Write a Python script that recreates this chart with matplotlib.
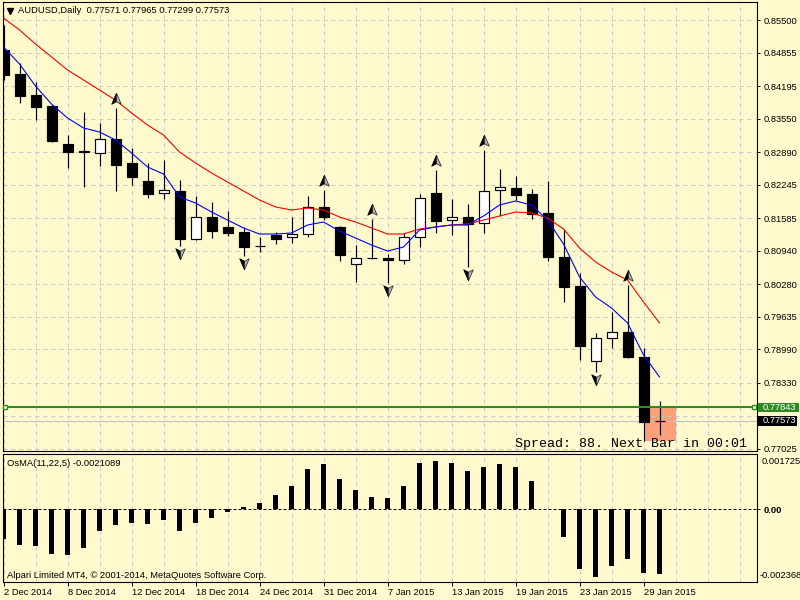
import numpy as np
import matplotlib
matplotlib.use("Agg")
import matplotlib.pyplot as plt
import matplotlib.transforms as mtransforms
from matplotlib.patches import Rectangle
from matplotlib.path import Path
from matplotlib.lines import Line2D

# ---------------- data ----------------
symbol_title = "AUDUSD,Daily"
bar_open = [0.84907, 0.84432, 0.84017, 0.83800, 0.83049, 0.82910, 0.82871, 0.83147, 0.82673, 0.82317,
            0.82080, 0.82119, 0.81170, 0.81605, 0.81408, 0.81309, 0.81032, 0.81249, 0.81210, 0.81269,
            0.81803, 0.81408, 0.80676, 0.80795, 0.80795, 0.80755, 0.81210, 0.82080, 0.81546, 0.81605,
            0.81487, 0.82139, 0.82179, 0.82060, 0.81684, 0.80814, 0.80241, 0.78758, 0.79213, 0.79332,
            0.78837, 0.77571]
bar_high = [0.85401, 0.84650, 0.84274, 0.83820, 0.83226, 0.83681, 0.83464, 0.83760, 0.82969, 0.82673,
            0.82732, 0.82337, 0.82021, 0.81902, 0.81724, 0.81408, 0.81210, 0.81309, 0.81605, 0.82021,
            0.82139, 0.81427, 0.81052, 0.81566, 0.80874, 0.81289, 0.82060, 0.82535, 0.81961, 0.81862,
            0.82930, 0.82554, 0.82416, 0.82159, 0.82317, 0.81368, 0.80498, 0.79312, 0.79727, 0.80261,
            0.79015, 0.77965]
bar_low = [0.84314, 0.83859, 0.83523, 0.83088, 0.82574, 0.82198, 0.82614, 0.82119, 0.82238, 0.81981,
           0.81961, 0.81032, 0.81151, 0.81190, 0.81230, 0.80834, 0.80913, 0.81072, 0.81091, 0.81210,
           0.81546, 0.80735, 0.80320, 0.80775, 0.80301, 0.80676, 0.81012, 0.81289, 0.81249, 0.80617,
           0.81289, 0.81625, 0.81941, 0.81566, 0.80735, 0.79925, 0.78778, 0.78541, 0.79015, 0.78818,
           0.77177, 0.77299]
bar_close = [0.84413, 0.83997, 0.83780, 0.83108, 0.82890, 0.82890, 0.83147, 0.82633, 0.82396, 0.82060,
             0.82139, 0.81170, 0.81605, 0.81329, 0.81289, 0.81012, 0.81030, 0.81170, 0.81269, 0.81803,
             0.81605, 0.80854, 0.80795, 0.80793, 0.80755, 0.81210, 0.81981, 0.81526, 0.81605, 0.81467,
             0.82119, 0.82198, 0.82040, 0.81665, 0.80814, 0.80221, 0.79055, 0.79213, 0.79332, 0.78837,
             0.77552, 0.77573]
ma_fast = [0.84966, 0.84630, 0.84195, 0.83839, 0.83563, 0.83365, 0.83286, 0.83128, 0.82871, 0.82594,
           0.82455, 0.82001, 0.81882, 0.81704, 0.81546, 0.81388, 0.81269, 0.81269, 0.81289, 0.81447,
           0.81506, 0.81329, 0.81190, 0.81052, 0.80933, 0.81012, 0.81348, 0.81408, 0.81447, 0.81447,
           0.81625, 0.81843, 0.81922, 0.81843, 0.81546, 0.81072, 0.80419, 0.80024, 0.79806, 0.79510,
           0.78877, 0.78442]
ma_slow = [0.85540, 0.85302, 0.85026, 0.84769, 0.84512, 0.84314, 0.84116, 0.83918, 0.83661, 0.83424,
           0.83226, 0.82890, 0.82673, 0.82475, 0.82297, 0.82119, 0.81941, 0.81803, 0.81744, 0.81783,
           0.81744, 0.81605, 0.81506, 0.81388, 0.81269, 0.81269, 0.81368, 0.81408, 0.81447, 0.81467,
           0.81546, 0.81625, 0.81704, 0.81684, 0.81586, 0.81368, 0.80992, 0.80716, 0.80518, 0.80360,
           0.79925, 0.79510]
osma_values = [-0.00096, -0.00116, -0.00119, -0.00145, -0.00148, -0.00126, -0.00070, -0.00051, -0.00043, -0.00048,
               -0.00035, -0.00070, -0.00043, -0.00028, -0.00009, 0.00006, 0.00022, 0.00048, 0.00077, 0.00131,
               0.00147, 0.00099, 0.00063, 0.00040, 0.00037, 0.00076, 0.00152, 0.00157, 0.00152, 0.00126,
               0.00139, 0.00147, 0.00139, 0.00092, 0.00001, -0.00089, -0.00195, -0.00219, -0.00186, -0.00162,
               -0.00206, -0.0021089]
osma_label = "OsMA(11,22,5) -0.0021089"
osma_scale_labels = ["0.001725", "0.00", "-0.002368"]
fractal_up_bars = [7, 20, 23, 27, 30, 39]
fractal_down_bars = [11, 15, 24, 29, 37]
date_label_bars = [0, 4, 8, 12, 16, 20, 24, 28, 32, 36, 40]
date_labels = ["2 Dec 2014", "8 Dec 2014", "12 Dec 2014", "18 Dec 2014", "24 Dec 2014",
               "31 Dec 2014", "7 Jan 2015", "13 Jan 2015", "19 Jan 2015", "23 Jan 2015", "29 Jan 2015"]
price_ticks = [0.85500, 0.84855, 0.84195, 0.83550, 0.82890, 0.82245, 0.81585, 0.80940,
               0.80280, 0.79635, 0.78990, 0.78330, 0.77680, 0.77025]
hidden_tick = 0.77680  # label covered by the price boxes
level_line_price = 0.77843
bid_price = 0.77573
spread_box_bars = (40, 42)
spread_box_low = 0.77177
spread_text = "Spread: 88. Next Bar in 00:01"
copyright_text = "Alpari Limited MT4, \u00a9 2001-2014, MetaQuotes Software Corp."

# ---------------- style ----------------
plt.rcParams['font.family'] = ['Liberation Sans', 'DejaVu Sans']
BG = '#FFFACD'
GRID = '#C8C8C8'
GREEN = '#2E8B22'
FS = 6.75
W, H = 800, 600

fig = plt.figure(figsize=(8, 6), dpi=100, facecolor=BG)


def px_rect(x0, y0, x1, y1):
    return [x0 / W, 1 - y1 / H, (x1 - x0) / W, (y1 - y0) / H]


ax = fig.add_axes(px_rect(2.7, 1.7, 757.3, 451))
ax2 = fig.add_axes(px_rect(2.7, 454, 757.3, 581.5))
for a in (ax, ax2):
    a.set_facecolor(BG)
    a.set_xlim(-0.05, 47.11)
    for s in a.spines.values():
        s.set_linewidth(0.8)
        s.set_color('black')

n = len(bar_open)
x = np.arange(n)

# ---------------- main panel ----------------
ax.set_ylim(0.769791, 0.858618)
ax.set_yticks(price_ticks)
ax.set_yticklabels(["" if p == hidden_tick else "%.5f" % p for p in price_ticks])
ax.yaxis.tick_right()
ax.tick_params(axis='y', direction='out', length=2.2, width=0.7, pad=2.5, labelsize=FS)
ax.set_xticks(np.arange(0, 48, 2))
ax.tick_params(axis='x', length=0, labelbottom=False)
ax.grid(True, color=GRID, linestyle=(0, (4, 4)), linewidth=0.72)
ax.set_axisbelow('line')

# spread box behind candles
ax.add_patch(Rectangle((spread_box_bars[0], spread_box_low), spread_box_bars[1] - spread_box_bars[0],
                       level_line_price - spread_box_low, fc='#FFA07A', ec='none', zorder=1))

bw = 0.625
for i in range(n):
    o, h, l, c = bar_open[i], bar_high[i], bar_low[i], bar_close[i]
    ax.plot([i, i], [l, h], color='black', lw=0.85, zorder=3, solid_capstyle='butt')
    fc = 'white' if c > o else 'black'
    ax.add_patch(Rectangle((i - bw / 2, min(o, c)), bw, abs(c - o), fc=fc, ec='black', lw=0.85, zorder=4))

ax.plot(x, ma_slow, color='#FF0000', lw=0.8, zorder=5)
ax.plot(x, ma_fast, color='#0000FF', lw=0.8, zorder=5)

# fractal arrows
up_full = Path([(0, 1), (0.75, -0.75), (0, -0.35), (-0.75, -0.75), (0, 1)],
               [Path.MOVETO, Path.LINETO, Path.LINETO, Path.LINETO, Path.CLOSEPOLY])
up_left = Path([(0, 1), (0, -0.35), (-0.75, -0.75), (0, 1)],
               [Path.MOVETO, Path.LINETO, Path.LINETO, Path.CLOSEPOLY])
dn_full = Path([(0, -1), (0.75, 0.75), (0, 0.35), (-0.75, 0.75), (0, -1)],
               [Path.MOVETO, Path.LINETO, Path.LINETO, Path.LINETO, Path.CLOSEPOLY])
dn_left = Path([(0, -1), (0, 0.35), (-0.75, 0.75), (0, -1)],
               [Path.MOVETO, Path.LINETO, Path.LINETO, Path.CLOSEPOLY])
ux = np.array(fractal_up_bars)
uy = np.array([bar_high[i] for i in fractal_up_bars]) + 0.00178
dx = np.array(fractal_down_bars)
dy = np.array([bar_low[i] for i in fractal_down_bars]) - 0.00138
for xs, ys, pf, pl in ((ux, uy, up_full, up_left), (dx, dy, dn_full, dn_left)):
    ax.plot(xs, ys, ls='none', marker=pf, ms=9, mfc='#B8B8B8', mec='#303030', mew=0.6, zorder=6)
    ax.plot(xs, ys, ls='none', marker=pl, ms=9, mfc='black', mec='black', mew=0.3, zorder=7)

# level line, bid line
ax.axhline(bid_price, color='#C0C0C0', lw=0.8, zorder=2)
ax.axhline(level_line_price, color=GREEN, lw=1.5, zorder=5)
tr_ax_y = mtransforms.blended_transform_factory(ax.transAxes, ax.transData)
ax.plot([0.003, 0.9956], [level_line_price, level_line_price], ls='none', marker='s', ms=3.2,
        mfc='#FFFFE0', mec=GREEN, mew=1.0, transform=tr_ax_y, zorder=6, clip_on=False)

tr_fig_y = mtransforms.blended_transform_factory(fig.transFigure, ax.transData)
for price, col, wpx in ((level_line_price, GREEN, 40.5), (bid_price, 'black', 39)):
    ax.add_patch(Rectangle((758 / W, price - 0.00092), wpx / W, 0.00184, transform=tr_fig_y,
                           fc=col, ec='none', clip_on=False, zorder=10))
    ax.text(762.5 / W, price, "%.5f" % price, transform=tr_fig_y, color='white', fontsize=FS,
            va='center', ha='left', clip_on=False, zorder=11)

# title
ax.text((18 - 2.7) / 754.6, (451 - 10.5) / 449.3,
        "%s  %.5f %.5f %.5f %.5f" % (symbol_title, bar_open[-1], bar_high[-1], bar_low[-1], bar_close[-1]),
        transform=ax.transAxes, fontsize=FS, va='center', ha='left', zorder=12)
fig.add_artist(Line2D([10 / W], [1 - 10.5 / H], marker='v', ms=4.5, color='black',
                      transform=fig.transFigure))

ax.text((747 - 2.7) / 754.6, (451 - 443.5) / 449.3, spread_text, transform=ax.transAxes,
        family=['Liberation Mono', 'DejaVu Sans Mono'], fontsize=9.6, va='center', ha='right', zorder=12)

# ---------------- OsMA panel ----------------
ax2.set_ylim(-0.00235, 0.00180)
ax2.bar(x, osma_values, width=0.3125, color='black', zorder=3)
ax2.axhline(0, color='black', lw=0.72, linestyle=(0, (3, 2)), zorder=2)
ax2.set_xticks(date_label_bars)
ax2.set_xticklabels(date_labels)
ax2.set_xticks(np.arange(0, 48, 2), minor=True)
for lbl in ax2.get_xticklabels():
    lbl.set_ha('left')
ax2.tick_params(axis='x', which='major', direction='out', length=2.9, width=0.7, pad=1.5, labelsize=FS)
ax2.tick_params(axis='x', which='minor', length=0)
ax2.grid(True, which='both', axis='x', color=GRID, linestyle=(0, (4, 4)), linewidth=0.72)
ax2.set_axisbelow('line')
ax2.yaxis.tick_right()
ax2.set_yticks([0])
ax2.set_yticklabels([osma_scale_labels[1]], fontweight='bold')
ax2.tick_params(axis='y', direction='out', length=2.2, width=0.7, pad=2.5, labelsize=FS)
ax2.text(1.0062, (581.5 - 462) / 127.5, osma_scale_labels[0], transform=ax2.transAxes,
         fontsize=FS, va='center', ha='left', clip_on=False)
ax2.text(1.0025, (581.5 - 576) / 127.5, osma_scale_labels[2], transform=ax2.transAxes,
         fontsize=FS, va='center', ha='left', clip_on=False)
ax2.text((7 - 2.7) / 754.6, (581.5 - 463) / 127.5, osma_label, transform=ax2.transAxes,
         fontsize=FS, va='center', ha='left')
ax2.text((7 - 2.7) / 754.6, (581.5 - 575) / 127.5, copyright_text, transform=ax2.transAxes,
         fontsize=FS, va='center', ha='left')

fig.savefig("out.png", dpi=100, facecolor=BG)
